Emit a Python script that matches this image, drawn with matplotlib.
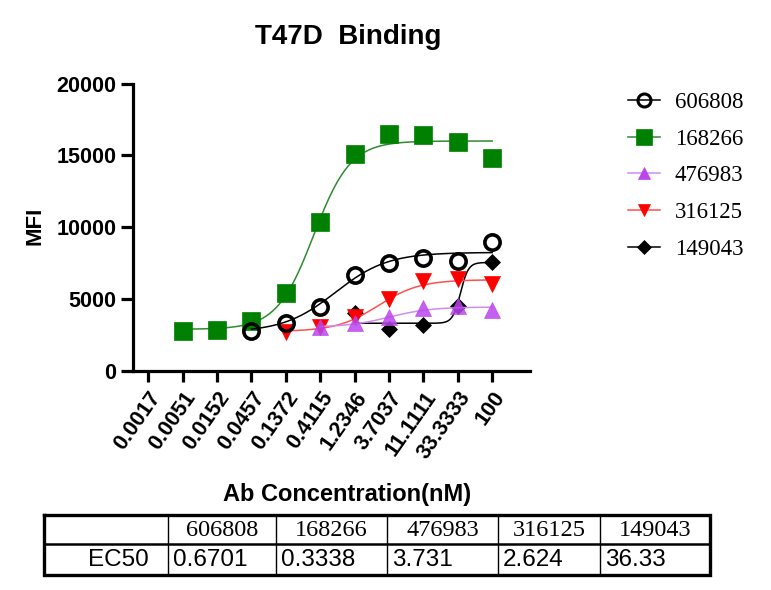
import numpy as np
import matplotlib
matplotlib.use("Agg")
import matplotlib.pyplot as plt
from matplotlib.lines import Line2D

plt.rcParams['font.family'] = ['Liberation Sans', 'DejaVu Sans']

# ---------------- data ----------------
conc = np.array([0.0016935, 0.0050805, 0.015242, 0.045725, 0.13717, 0.41152,
                 1.2346, 3.7037, 11.111, 33.333, 100.0])
conc_labels = ["0.0017", "0.0051", "0.0152", "0.0457", "0.1372", "0.4115",
               "1.2346", "3.7037", "11.1111", "33.3333", "100"]

series_names = ["606808", "168266", "476983", "316125", "149043"]
nan = np.nan
mfi_606808 = [nan, nan, nan, 2800, 3310, 4430, 6650, 7490, 7830, 7650, 8950]
mfi_168266 = [nan, 2780, 2870, 3500, 5400, 10340, 15090, 16480, 16410, 15900, 14810]
mfi_476983 = [nan, nan, nan, nan, nan, 3080, 3320, 3730, 4360, 4540, 4240]
mfi_316125 = [nan, nan, nan, nan, 2690, 3050, 3780, 4980, 6280, 6400, 6050]
mfi_149043 = [nan, nan, nan, nan, nan, nan, 4010, 2900, 3180, 4530, 7550]

# 4PL fit parameters (EC50 from table)
fit_bottom = [2700, 2900, 3050, 2750, 3320]
fit_top = [8250, 16000, 4450, 6350, 7550]
fit_hill = [1.2, 1.7, 1.5, 1.5, 8.0]
ec50_values = [0.6701, 0.3338, 3.731, 2.624, 36.33]
ec50_labels = ["0.6701", "0.3338", "3.731", "2.624", "36.33"]

y_ticks = [0, 5000, 10000, 15000, 20000]

# ---------------- styles ----------------
series_data = [mfi_606808, mfi_168266, mfi_476983, mfi_316125, mfi_149043]
markers = ['o', 's', '^', 'v', 'D']
mcolors = ['black', '#008000', '#BB44EE', '#FF0000', 'black']
mface = ['none', '#008000', '#BB44EE', '#FF0000', 'black']
lcolors = ['black', '#2E8B2E', '#D08CF0', '#FF5050', 'black']
msizes = [11, 13, 11, 11, 8]
mews = [2.6, 0.5, 0.5, 0.5, 0.5]
zorders = [7, 3, 6, 5, 4]

W, H = 771, 590
fig = plt.figure(figsize=(W / 100, H / 100), dpi=100)

ax_l, ax_r, ax_t, ax_b = 133, 530, 83.5, 371
ax = fig.add_axes([ax_l / W, 1 - ax_b / H, (ax_r - ax_l) / W, (ax_b - ax_t) / H])

step = np.log10(3)
xmin = 10 ** (np.log10(conc[0]) - 0.445 * step)
xmax = 10 ** (np.log10(conc[-1]) + 1.1 * step)

handles = []
for i in range(5):
    y = np.array(series_data[i], dtype=float)
    valid = ~np.isnan(y)
    x0 = conc[valid][0]
    xs = np.logspace(np.log10(x0), np.log10(conc[-1]), 400)
    yc = fit_bottom[i] + (fit_top[i] - fit_bottom[i]) / (
        1 + 10 ** ((np.log10(ec50_values[i]) - np.log10(xs)) * fit_hill[i]))
    ax.plot(xs, yc, color=lcolors[i], lw=1.1, zorder=zorders[i] - 0.5)
    alpha = 0.85 if i == 2 else 1.0
    ax.plot(conc[valid], y[valid], linestyle='none', marker=markers[i],
            markersize=msizes[i], markerfacecolor=mface[i],
            markeredgecolor=mcolors[i], markeredgewidth=mews[i],
            alpha=alpha, zorder=zorders[i], clip_on=False)
    handles.append(Line2D([0], [0], color=lcolors[i], lw=1.1, marker=markers[i],
                          markersize=msizes[i] * 0.85, markerfacecolor=mface[i],
                          markeredgecolor=mcolors[i],
                          markeredgewidth=mews[i] * 0.85 if i == 0 else 0.5))

ax.set_xscale('log')
ax.set_xlim(xmin, xmax)
ax.set_ylim(0, 20000)
ax.set_xticks(conc)
ax.set_xticklabels(conc_labels, rotation=55, ha='right', va='top',
                   rotation_mode='anchor', fontsize=15.5, fontweight='bold')
ax.xaxis.set_minor_locator(matplotlib.ticker.NullLocator())
ax.set_yticks(y_ticks)
ax.set_yticklabels([str(v) for v in y_ticks], fontsize=15.5, fontweight='bold')
for s in ['top', 'right']:
    ax.spines[s].set_visible(False)
for s in ['left', 'bottom']:
    ax.spines[s].set_linewidth(2.3)
ax.tick_params(axis='x', length=8, width=2.3, pad=4)
ax.tick_params(axis='y', length=9, width=2.3, pad=3)

fig.text(348 / W, 1 - 37 / H, "T47D  Binding", ha='center', va='center',
         fontsize=20, fontweight='bold')
fig.text(35 / W, 1 - 226 / H, "MFI", ha='center', va='center', rotation=90,
         fontsize=16, fontweight='bold')
fig.text(347 / W, 1 - 494 / H, "Ab Concentration(nM)", ha='center',
         va='center', fontsize=17, fontweight='bold')

leg = fig.legend(handles, series_names, loc='upper left',
                 bbox_to_anchor=(628 / W, 1 - 92 / H), frameon=False,
                 prop={'family': 'Liberation Serif', 'size': 16.5},
                 handlelength=1.4, handletextpad=0.65, labelspacing=0.68,
                 borderpad=0, borderaxespad=0)

# ---------------- table ----------------
tax = fig.add_axes([0, 0, 1, 1])
tax.set_xlim(0, W)
tax.set_ylim(H, 0)
tax.axis('off')
col_x = [44, 168, 276, 387, 498, 600, 710]
row_y = [515, 544, 575]
for cx in col_x[1:-1]:
    tax.plot([cx, cx], [row_y[0], row_y[2]], color='black', lw=1.0)
tax.plot([col_x[0], col_x[-1]], [row_y[1], row_y[1]], color='black', lw=1.8)
tax.plot([col_x[0], col_x[-1], col_x[-1], col_x[0], col_x[0]],
         [row_y[0], row_y[0], row_y[2], row_y[2], row_y[0]],
         color='black', lw=2.4, solid_joinstyle='miter')
for j, name in enumerate(series_names):
    cx = (col_x[j + 1] + col_x[j + 2]) / 2
    tax.text(cx, (row_y[0] + row_y[1]) / 2 + 1, name, ha='center', va='center',
             family='Liberation Serif', fontsize=17.5)
    tax.text(col_x[j + 1] + 5, (row_y[1] + row_y[2]) / 2 + 1, ec50_labels[j],
             ha='left', va='center', fontsize=17.5)
tax.text(col_x[1] - 19, (row_y[1] + row_y[2]) / 2 + 1, "EC50", ha='right',
         va='center', fontsize=17.5)

fig.savefig("out.png", dpi=100)
